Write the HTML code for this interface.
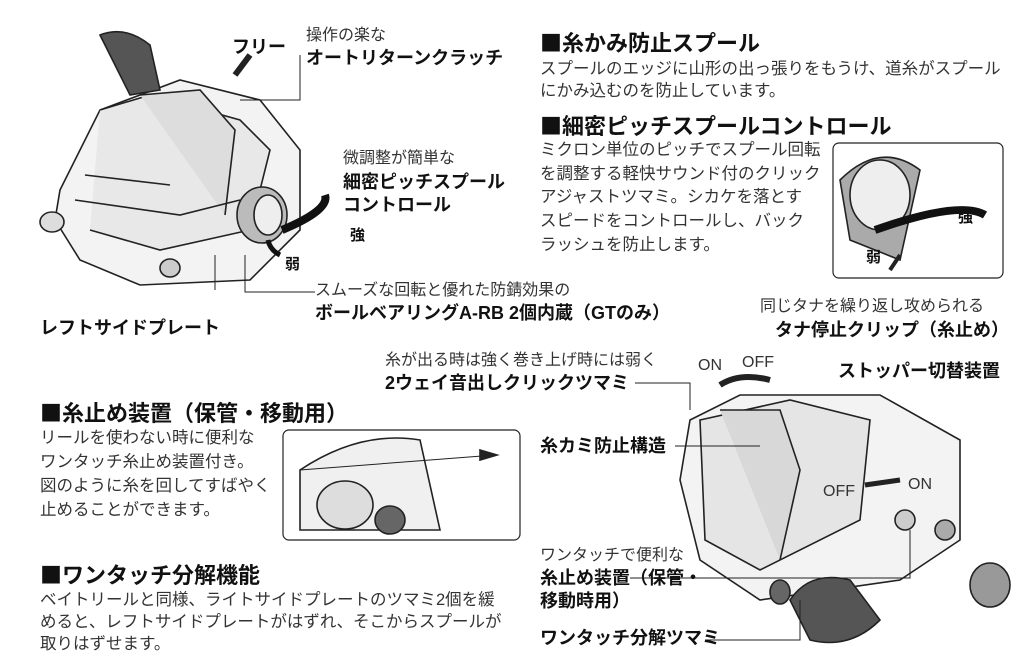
<!DOCTYPE html>
<html><head><meta charset="utf-8"><style>
body{margin:0;width:1024px;height:661px;background:#fff;position:relative;overflow:hidden;font-family:"Liberation Sans","Noto Sans CJK JP",sans-serif;color:#222}
.t{position:absolute;white-space:nowrap;font-size:16px;line-height:18px;color:#333}
.b{font-weight:bold;font-size:18px;line-height:20px;color:#111}
.h{position:absolute;white-space:nowrap;font-weight:bold;font-size:22px;line-height:26px;color:#111;font-family:"Noto Sans CJK JP",sans-serif}
.p{position:absolute;white-space:nowrap;font-size:16.5px;line-height:24px;color:#333}
svg{position:absolute;left:0;top:0}
</style></head><body>
<svg width="1024" height="661" viewBox="0 0 1024 661" fill="none" stroke="#222" stroke-width="1.6">
<path d="M60 190 L100 110 L180 80 L260 100 L300 150 L300 230 L250 280 L140 285 L80 260 L55 220 Z" fill="#f3f3f3"/>
<path d="M100 110 L150 95 L240 120 L270 150 L250 230 L160 250 L90 230" fill="#e8e8e8"/>
<path d="M140 95 L200 90 L235 130 L225 215" fill="#ddd"/>
<path d="M75 200 L180 215 L240 200 M85 175 L170 185" />
<path d="M100 35 Q125 25 150 45 L160 90 L130 95 Z" fill="#555"/>
<ellipse cx="262" cy="215" rx="25" ry="28" fill="#bbb"/>
<ellipse cx="268" cy="215" rx="14" ry="20" fill="#eee"/>
<ellipse cx="52" cy="222" rx="12" ry="10" fill="#ddd"/>
<ellipse cx="170" cy="268" rx="10" ry="9" fill="#ccc"/>
<path d="M282 230 Q330 210 325 195" stroke-width="8" stroke="#111"/>
<path d="M280 255 Q270 250 268 240" stroke-width="5" stroke="#111"/>
<path d="M250 55 L235 75" stroke-width="6"/>
<path d="M300 55 L300 100 L240 100" stroke-width="1"/>
<path d="M215 255 L215 290 M245 255 L245 292 L315 292" stroke-width="1"/>
<rect x="833" y="143" width="170" height="135" rx="6" stroke-width="1.2"/>
<path d="M840 180 Q880 140 920 170 L900 260 L850 240 Z" fill="#aaa"/>
<ellipse cx="880" cy="195" rx="30" ry="35" fill="#eee"/>
<path d="M875 230 Q960 200 985 215" stroke-width="8" stroke="#111"/>
<path d="M900 255 L890 270" stroke-width="4"/>
<rect x="283" y="430" width="237" height="110" rx="6" stroke-width="1.2"/>
<path d="M300 470 Q360 430 420 440 L440 530 L300 530 Z" fill="#f0f0f0"/>
<ellipse cx="345" cy="505" rx="28" ry="24" fill="#ddd"/>
<ellipse cx="390" cy="520" rx="15" ry="14" fill="#666"/>
<path d="M300 470 L495 455" stroke-width="1"/>
<path d="M480 450 L497 455 L480 460 Z" fill="#222"/>
<path d="M690 420 L740 395 L880 395 L960 440 L960 540 L900 580 L760 600 L700 560 L680 480 Z" fill="#f3f3f3"/>
<path d="M700 420 L790 400 L870 420 L860 520 L760 570 L705 540 Z" fill="#e5e5e5"/>
<path d="M720 410 L780 410 L800 470 L780 560" fill="#d8d8d8"/>
<path d="M790 600 Q810 570 850 580 L880 620 Q850 650 810 640 Z" fill="#555"/>
<ellipse cx="990" cy="585" rx="20" ry="22" fill="#999"/>
<ellipse cx="780" cy="592" rx="10" ry="12" fill="#666"/>
<ellipse cx="945" cy="530" rx="10" ry="10" fill="#aaa"/>
<ellipse cx="905" cy="520" rx="10" ry="10" fill="#ccc"/>
<path d="M865 485 L900 480" stroke-width="5"/>
<path d="M720 385 Q740 372 770 380" stroke-width="6"/>
<path d="M635 383 L690 383 L690 410 M675 446 L760 446 M630 578 L910 578 L910 530 M705 640 L800 640 L800 600" stroke-width="1"/>
</svg>
<div class="t b" style="left:232px;top:37px">フリー</div>
<div class="t" style="left:306px;top:27px">操作の楽な</div>
<div class="t b" style="left:306px;top:48px">オートリターンクラッチ</div>
<div class="h" style="left:540px;top:29px">■糸かみ防止スプール</div>
<div class="p" style="left:540px;top:57px">スプールのエッジに山形の出っ張りをもうけ、道糸がスプール</div>
<div class="p" style="left:540px;top:79px">にかみ込むのを防止しています。</div>
<div class="h" style="left:540px;top:112px">■細密ピッチスプールコントロール</div>
<div class="p" style="left:540px;top:139px;line-height:23.7px">ミクロン単位のピッチでスプール回転<br>を調整する軽快サウンド付のクリック<br>アジャストツマミ。シカケを落とす<br>スピードをコントロールし、バック<br>ラッシュを防止します。</div>
<div class="t" style="left:343px;top:150px">微調整が簡単な</div>
<div class="t b" style="left:343px;top:171px;line-height:23px">細密ピッチスプール<br>コントロール</div>
<div class="t b" style="left:350px;top:226px;font-size:15px">強</div>
<div class="t b" style="left:285px;top:255px;font-size:15px">弱</div>
<div class="t b" style="left:958px;top:208px;font-size:15px">強</div>
<div class="t b" style="left:866px;top:248px;font-size:15px">弱</div>
<div class="t" style="left:315px;top:282px">スムーズな回転と優れた防錆効果の</div>
<div class="t b" style="left:315px;top:303px">ボールベアリングA-RB 2個内蔵（GTのみ）</div>
<div class="t b" style="left:40px;top:318px">レフトサイドプレート</div>
<div class="t" style="left:760px;top:298px">同じタナを繰り返し攻められる</div>
<div class="t b" style="left:775px;top:320px">タナ停止クリップ（糸止め）</div>
<div class="t" style="left:385px;top:352px">糸が出る時は強く巻き上げ時には弱く</div>
<div class="t b" style="left:385px;top:373px">2ウェイ音出しクリックツマミ</div>
<div class="t" style="left:698px;top:357px">ON</div>
<div class="t" style="left:742px;top:354px">OFF</div>
<div class="t b" style="left:838px;top:361px">ストッパー切替装置</div>
<div class="h" style="left:40px;top:399px">■糸止め装置（保管・移動用）</div>
<div class="p" style="left:40px;top:426px">リールを使わない時に便利な<br>ワンタッチ糸止め装置付き。<br>図のように糸を回してすばやく<br>止めることができます。</div>
<div class="t b" style="left:540px;top:436px">糸カミ防止構造</div>
<div class="t" style="left:823px;top:483px">OFF</div>
<div class="t" style="left:908px;top:476px">ON</div>
<div class="t" style="left:540px;top:547px">ワンタッチで便利な</div>
<div class="t b" style="left:540px;top:567px;line-height:23px">糸止め装置（保管・<br>移動時用）</div>
<div class="h" style="left:40px;top:561px">■ワンタッチ分解機能</div>
<div class="p" style="left:40px;top:589px;line-height:22px">ベイトリールと同様、ライトサイドプレートのツマミ2個を緩<br>めると、レフトサイドプレートがはずれ、そこからスプールが<br>取りはずせます。</div>
<div class="t b" style="left:540px;top:628px">ワンタッチ分解ツマミ</div>
</body></html>
